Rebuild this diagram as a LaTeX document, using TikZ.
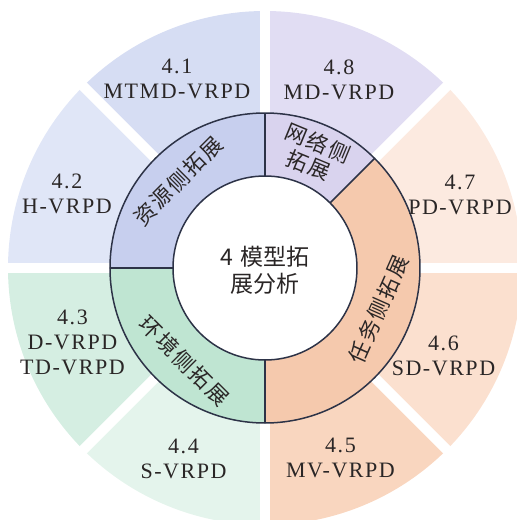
\documentclass[tikz,border=0pt]{standalone}
\usepackage{fontspec}
\setmainfont{Liberation Serif}
\newfontfamily\cjk{Noto Sans CJK SC}
\definecolor{txt}{HTML}{2A2626}
\definecolor{edge}{HTML}{2D3347}
\definecolor{cA}{HTML}{D6DDF3}
\definecolor{cB}{HTML}{E0E6F7}
\definecolor{cC}{HTML}{D5EEE2}
\definecolor{cD}{HTML}{E4F4EC}
\definecolor{cE}{HTML}{F9D6BF}
\definecolor{cF}{HTML}{FBE0CF}
\definecolor{cG}{HTML}{FCEAE0}
\definecolor{cH}{HTML}{E1DDF3}
\definecolor{rA}{HTML}{C7CFEE}
\definecolor{rB}{HTML}{D9D3EE}
\definecolor{rC}{HTML}{F5C9AD}
\definecolor{rD}{HTML}{BFE5D2}
\begin{document}
\begin{tikzpicture}[x=1pt,y=1pt,
  lab/.style={font=\fontsize{22}{25}\selectfont\addfontfeatures{LetterSpace=7},
              align=center, text=txt, inner sep=0pt},
  ringlab/.style={font=\cjk\fontsize{21.5}{24}\selectfont\addfontfeatures{LetterSpace=9},
                  text=txt, inner sep=0pt, align=center},
  seg/.style={draw=edge, line width=1.5pt}]
\useasboundingbox (-265,-252) rectangle (252,268);
\clip (-265,-252) rectangle (252,268);
% outer sectors
\def\R{257}
\fill[cA] (0,0) -- (90:\R) arc (90:135:\R) -- cycle;
\fill[cB] (0,0) -- (135:\R) arc (135:180:\R) -- cycle;
\fill[cC] (0,0) -- (180:\R) arc (180:225:\R) -- cycle;
\fill[cD] (0,0) -- (225:\R) arc (225:270:\R) -- cycle;
\fill[cE] (0,0) -- (270:\R) arc (270:315:\R) -- cycle;
\fill[cF] (0,0) -- (315:\R) arc (315:360:\R) -- cycle;
\fill[cG] (0,0) -- (0:\R) arc (0:45:\R) -- cycle;
\fill[cH] (0,0) -- (45:\R) arc (45:90:\R) -- cycle;
\foreach \a in {0,45,...,315} \draw[white, line width=10pt] (0,0) -- (\a:280);
% ring
\def\ro{155}\def\ri{92}
\fill[rA] (90:\ro) arc (90:180:\ro) -- (180:\ri) arc (180:90:\ri) -- cycle;
\fill[rD] (180:\ro) arc (180:270:\ro) -- (270:\ri) arc (270:180:\ri) -- cycle;
\fill[rC] (270:\ro) arc (270:405:\ro) -- (45:\ri) arc (45:-90:\ri) -- cycle;
\fill[rB] (45:\ro) arc (45:90:\ro) -- (90:\ri) arc (90:45:\ri) -- cycle;
\draw[seg] (0,0) circle (\ro);
\draw[seg, fill=white] (0,0) circle (\ri);
\foreach \a in {45,90,180,270} \draw[seg] (\a:\ri) -- (\a:\ro);
% center
\node[ringlab, font=\cjk\fontsize{23}{27}\selectfont] (core) at (0,-2) {4\,\,模型拓\\展分析};
% ring labels
\node[ringlab, rotate=45] (res) at (135:123) {资源侧拓展};
\node[ringlab, rotate=-22.5] (net) at (67:124) {网络侧\\拓展};
\node[ringlab, rotate=66] (task) at (-20:121) {任务侧拓展};
\node[ringlab, rotate=-45] (env) at (229:123) {环境侧拓展};
% outer labels
\node[lab] (s41) at (-88,189.5) {4.1\\MTMD-VRPD};
\node[lab] (s42) at (-198,74) {4.2\\H-VRPD};
\node[lab] (s43) at (-192.5,-74) {4.3\\D-VRPD\\TD-VRPD};
\node[lab] (s44) at (-81.5,-191) {4.4\\S-VRPD};
\node[lab] (s45) at (75.5,-190) {4.5\\MV-VRPD};
\node[lab] (s46) at (178.5,-87.5) {4.6\\SD-VRPD};
\node[lab] (s47) at (195,73.5) {4.7\\PD-VRPD};
\node[lab] (s48) at (74,188.5) {4.8\\MD-VRPD};
\end{tikzpicture}
\end{document}
